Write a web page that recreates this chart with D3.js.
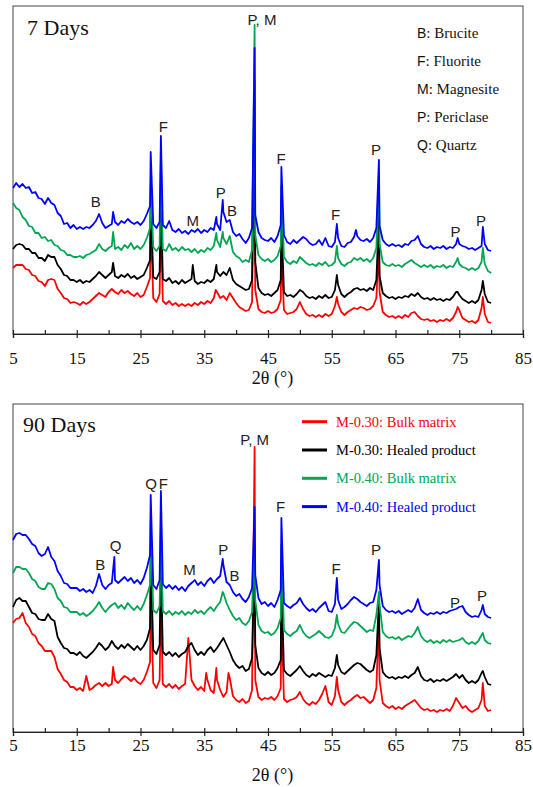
<!DOCTYPE html>
<html>
<head>
<meta charset="utf-8">
<script src="https://cdn.jsdelivr.net/npm/d3@7"></script>
<style>
  body { margin: 0; background: #fff; }
  svg { display: block; }
</style>
</head>
<body>
<svg id="chart" width="533" height="787"></svg>
<script>
// ---------------------------------------------------------------
// XRD patterns, 2θ scanned from 5° to 80° (background sampled every 0.5°)
// Intensities in arbitrary units, already offset for stacking.
// ---------------------------------------------------------------
const scanStart = 5, scanStep = 0.5, scanEnd = 80;
const twoTheta = d3.range(scanStart, scanEnd + scanStep / 2, scanStep);

const seriesNames  = ["M-0.30: Bulk matrix", "M-0.30: Healed product", "M-0.40: Bulk matrix", "M-0.40: Healed product"];
const seriesColors = ["#ff0000", "#000000", "#00a651", "#0000ff"];

// ---- 7 days ----
const d7_M30_bulk = [
  66,69,69,69,65,64,59,58,53,52, 48,54,55,54,45,41,36,35,31,32,
  31,29,32,30,32,35,38,41,39,37, 42,45,42,40,44,41,43,40,38,41,
  37,39,47,56,36,32,40,33,30,33, 29,31,28,30,28,30,28,31,29,32,
  30,33,31,36,42,36,38,34,41,36, 31,27,25,23,24,32,44,25,22,21,
  23,21,22,25,34,24,20,21,22,25, 32,25,20,18,19,17,19,17,20,18,
  20,28,30,22,19,22,24,26,25,27, 26,24,25,28,36,42,22,19,17,18,
  16,18,16,19,17,21,22,18,15,14, 15,13,14,12,14,13,15,13,16,22,
  24,16,14,12,13,11,14,26,20,12, 11];
const d7_M30_healed = [
  85,89,90,89,85,85,81,81,76,76, 73,79,77,77,69,65,59,58,54,54,
  52,54,51,53,52,55,58,62,59,56, 59,62,58,56,59,57,60,56,58,55,
  57,59,66,74,57,55,62,55,53,56, 51,53,50,54,51,53,55,53,50,52,
  51,54,52,55,62,58,62,59,66,54, 50,48,46,44,45,54,72,46,41,39,
  40,38,41,44,54,42,38,39,37,40, 44,42,38,36,37,35,38,36,39,36,
  37,44,49,40,37,40,42,45,46,44, 45,43,46,44,54,58,41,38,36,37,
  35,37,36,38,37,40,38,41,37,35, 36,34,36,34,35,33,35,34,37,42,
  39,35,33,31,33,31,34,44,40,32, 31];
const d7_M40_bulk = [
  131,126,124,117,114,108,107,101,101,96, 97,93,94,89,88,84,83,79,79,77,
  77,78,76,79,80,82,84,90,85,83, 86,88,85,87,84,89,86,91,85,88,
  85,89,96,106,87,83,88,85,83,90, 84,86,83,87,84,85,82,85,81,84,
  82,86,84,88,94,87,96,90,98,82, 78,76,72,74,72,84,99,79,75,73,
  75,72,74,78,88,77,72,70,73,71, 77,74,71,69,70,68,71,69,72,68,
  69,72,76,70,68,71,72,76,74,76, 73,75,72,76,86,90,72,69,68,70,
  68,69,67,70,72,74,71,69,67,69, 67,69,66,68,67,69,66,68,67,72,
  70,67,66,64,66,64,66,72,70,63, 61];
const d7_M40_healed = [
  146,151,147,150,146,147,141,142,136,135, 130,136,131,129,121,118,110,111,106,109,
  105,107,105,107,106,109,113,120,111,106, 108,110,112,109,113,111,115,112,110,112,
  109,113,120,128,110,106,112,109,106,113, 104,102,105,101,103,100,104,102,105,101,
  104,102,106,104,110,104,122,112,114,102, 98,100,95,91,96,106,119,102,96,94,
  93,96,92,98,109,99,92,90,94,91, 94,97,95,91,89,90,94,89,96,88,
  87,92,96,88,87,91,92,97,98,94, 93,95,92,96,106,108,94,90,88,90,
  88,89,87,90,89,93,94,98,90,87, 86,88,85,87,86,88,85,87,86,90,
  90,88,87,85,86,84,86,88,90,84, 83];

// sharp reflections [2θ, intensity]
const d7_M30_bulk_peaks   = [[26.6,119],[28.2,124],[36.8,44],[42.9,234],[47.1,84],[55.8,37],[62.4,89],[74.75,27],[78.7,37]];
const d7_M30_healed_peaks = [[20.7,71],[26.6,134],[28.2,139],[33.2,69],[36.9,69],[42.9,254],[47.1,114],[55.8,59],[62.4,119],[74.75,42],[78.7,53]];
const d7_M40_bulk_peaks   = [[20.7,102],[26.6,150],[28.2,175],[36.9,101],[37.9,102],[42.9,309],[47.1,148],[55.8,88],[62.4,158],[74.75,76],[78.7,86]];
const d7_M40_healed_peaks = [[20.7,122],[26.6,182],[28.2,198],[36.9,117],[37.9,134],[42.9,286],[47.1,167],[55.8,110],[58.8,104],[62.4,174],[74.75,96],[78.7,107]];

// ---- 90 days ----
const d90_M30_bulk = [
  109,113,114,119,109,105,98,96,89,86, 81,81,81,75,63,58,52,50,45,45,
  42,44,41,56,42,44,47,49,46,49, 46,48,52,49,53,56,54,51,54,50,
  48,52,60,70,49,44,52,48,45,48, 44,47,43,46,48,94,52,46,42,45,
  41,52,42,39,52,42,35,40,54,36, 32,30,33,29,31,42,52,35,32,34,
  33,35,32,36,44,33,30,32,33,35, 40,33,29,27,30,28,32,38,46,30,
  27,36,42,30,27,30,32,35,37,34, 35,32,29,32,44,52,29,26,24,26,
  23,25,23,26,28,30,32,28,24,22, 23,21,22,20,22,21,23,21,26,34,
  29,24,26,22,20,22,24,32,26,21, 22];
const d90_M30_healed = [
  125,132,134,131,131,125,119,118,113,112, 112,118,113,111,95,89,84,83,79,79,
  77,80,76,74,77,80,84,89,86,82, 85,91,86,83,87,84,88,85,82,86,
  82,86,92,104,82,78,87,80,77,80, 76,79,75,78,80,86,89,82,77,80,
  77,82,85,80,84,89,94,87,80,72, 67,64,66,61,63,74,87,64,59,57,
  60,57,59,64,72,62,58,56,59,62, 66,61,57,55,58,56,59,57,55,57,
  56,64,67,60,58,61,64,67,69,68, 65,62,60,62,77,84,60,56,54,55,
  53,55,54,56,54,57,59,65,56,52, 51,53,50,52,51,53,51,53,55,58,
  54,57,52,49,51,49,52,59,55,48, 47];
const d90_M40_bulk = [
  159,165,165,163,163,159,153,151,145,143, 143,149,148,143,134,131,125,124,120,120,
  120,117,119,116,118,121,125,130,124,120, 124,127,129,124,127,123,129,125,122,126,
  122,128,137,147,122,119,126,121,118,121, 117,120,118,121,117,120,118,122,119,121,
  118,122,125,121,126,130,139,129,122,116, 112,114,109,107,111,120,132,107,101,99,
  100,97,99,104,114,102,98,96,99,101, 107,100,96,94,96,98,101,98,95,94,
  96,104,108,100,99,103,107,110,109,106, 103,100,102,101,117,127,100,96,94,95,
  93,95,92,94,96,95,99,105,96,92, 90,92,89,91,89,92,90,92,90,91,
  92,94,90,88,90,88,91,97,92,89, 88];
const d90_M40_healed = [
  192,198,199,197,197,193,188,186,179,176, 178,185,175,171,161,156,149,148,144,144,
  144,141,143,140,142,139,146,158,147,143, 147,149,152,149,152,155,151,154,149,152,
  148,154,164,177,147,143,152,148,144,147, 143,146,142,145,141,146,149,152,147,150,
  146,151,154,149,153,156,167,150,147,140, 136,138,133,130,135,144,157,134,128,130,
  126,129,125,132,142,129,126,124,127,129, 134,128,124,121,123,120,124,127,130,121,
  120,128,132,123,125,128,132,135,133,130, 128,126,129,130,142,147,126,122,120,121,
  119,121,118,120,122,120,124,133,122,119, 117,119,118,120,118,120,119,121,122,123,
  125,126,120,117,115,116,115,122,118,115, 114];

const d90_M30_bulk_peaks   = [[20.7,65],[26.6,142],[28.2,132],[35.3,59],[36.9,64],[38.8,59],[42.9,285],[47.1,122],[55.8,55],[62.4,117],[78.7,49]];
const d90_M30_healed_peaks = [[26.6,182],[28.2,172],[42.9,172],[47.1,152],[55.8,77],[62.4,132],[78.7,61]];
const d90_M40_bulk_peaks   = [[26.6,212],[28.2,207],[37.9,140],[42.9,202],[47.1,187],[55.8,117],[62.4,140],[78.7,99]];
const d90_M40_healed_peaks = [[20.9,175],[26.6,237],[28.2,241],[33.2,150],[37.9,173],[42.9,225],[47.1,214],[55.8,154],[62.4,172],[78.7,127]];

// phase annotations [label, 2θ, intensity]
const labels7 = [["B",18.0,127],["F",28.6,202],["M",33.2,108],["P",37.6,136],["B",39.35,118],
  ["P, M",44.06,309],["F",47.04,170],["F",55.6,114],["P",61.94,179],["P",74.4,97],["P",78.4,108]];
const labels90 = [["B",18.7,162],["Q",21.1,181],["Q",26.65,243],["F",28.6,243],["M",32.7,157],
  ["P",38.0,177],["B",39.75,151],["P, M",42.9,287],["F",46.96,220],["F",55.67,158],
  ["P",61.94,177],["P",74.33,124],["P",78.57,131]];

const phaseKey = [["B", ": Brucite"], ["F", ": Fluorite"], ["M", ": Magnesite"], ["P", ": Periclase"], ["Q", ": Quartz"]];

const majorTicks = [5, 15, 25, 35, 45, 55, 65, 75, 85];
const minorTicks = [10, 20, 30, 40, 50, 60, 70, 80];
const intensityMax = 328;

// ---------------------------------------------------------------
const SERIF = "'Liberation Serif', 'Times New Roman', serif";
const SANS  = "'Liberation Sans', Arial, sans-serif";
const svg = d3.select("#chart");
const x = d3.scaleLinear().domain([5, 85]).range([13, 523]);

function pattern(values, peaks) {
  return values.map((v, i) => [twoTheta[i], v]).concat(peaks).sort((a, b) => a[0] - b[0]);
}

const panels = [
  { title: "7 Days", top: 6, bottom: 334, tickBase: 30, titleBase: 50,
    data: [pattern(d7_M30_bulk, d7_M30_bulk_peaks), pattern(d7_M30_healed, d7_M30_healed_peaks),
           pattern(d7_M40_bulk, d7_M40_bulk_peaks), pattern(d7_M40_healed, d7_M40_healed_peaks)],
    labels: labels7, titlePos: [27, 35] },
  { title: "90 Days", top: 404, bottom: 732, tickBase: 19, titleBase: 49,
    data: [pattern(d90_M30_bulk, d90_M30_bulk_peaks), pattern(d90_M30_healed, d90_M30_healed_peaks),
           pattern(d90_M40_bulk, d90_M40_bulk_peaks), pattern(d90_M40_healed, d90_M40_healed_peaks)],
    labels: labels90, titlePos: [23, 432] }
];

panels.forEach((p) => {
  const y = d3.scaleLinear().domain([0, intensityMax]).range([p.bottom, p.top]);
  const g = svg.append("g");

  // frame
  g.append("rect")
    .attr("x", x(5)).attr("y", p.top)
    .attr("width", x(85) - x(5)).attr("height", p.bottom - p.top)
    .attr("fill", "none").attr("stroke", "#444").attr("stroke-width", 1);

  // patterns (drawn red → black → green → blue)
  const line = d3.line().x(d => x(d[0])).y(d => y(d[1]));
  p.data.forEach((d, i) => {
    g.append("path").datum(d)
      .attr("d", line)
      .attr("fill", "none")
      .attr("stroke", seriesColors[i])
      .attr("stroke-width", 1.8)
      .attr("stroke-linejoin", "round");
  });

  // x axis: major ticks crossing the axis, all ticks inward
  const axOut = g.append("g").attr("transform", `translate(0,${p.bottom})`)
    .call(d3.axisBottom(x).tickValues(majorTicks).tickSize(4).tickFormat(d3.format("d")));
  axOut.attr("font-family", SERIF).attr("font-size", 17);
  axOut.select(".domain").attr("stroke", "#222").attr("stroke-width", 1.2);
  axOut.selectAll(".tick line").attr("stroke", "#222").attr("stroke-width", 1.2);
  axOut.selectAll(".tick text")
    .attr("y", p.tickBase).attr("dy", 0)
    .attr("font-family", SERIF).attr("font-size", 17).attr("fill", "#111");

  const axIn = g.append("g").attr("transform", `translate(0,${p.bottom})`)
    .call(d3.axisTop(x).tickValues(majorTicks.concat(minorTicks)).tickSize(4).tickFormat(""));
  axIn.select(".domain").remove();
  axIn.selectAll(".tick line").attr("stroke", "#222").attr("stroke-width", 1.2);

  // axis title
  g.append("text")
    .attr("x", 272.5).attr("y", p.bottom + p.titleBase)
    .attr("text-anchor", "middle")
    .attr("font-family", SERIF).attr("font-size", 18).attr("fill", "#111")
    .text("2θ (°)");

  // panel title
  g.append("text")
    .attr("x", p.titlePos[0]).attr("y", p.titlePos[1])
    .attr("font-family", SERIF).attr("font-size", 22).attr("fill", "#111")
    .text(p.title);

  // phase annotations
  g.selectAll("text.phase").data(p.labels).enter().append("text")
    .attr("class", "phase")
    .attr("x", d => x(d[1])).attr("y", d => y(d[2]))
    .attr("text-anchor", "middle")
    .attr("font-family", SANS).attr("font-size", 15).attr("fill", "#222")
    .text(d => d[0]);
});

// phase key (7 days panel)
const key = svg.append("g");
phaseKey.forEach((k, i) => {
  const t = key.append("text").attr("x", 417).attr("y", 38 + i * 28.1).attr("fill", "#111");
  t.append("tspan").attr("font-family", SANS).attr("font-size", 14).text(k[0]);
  t.append("tspan").attr("font-family", SERIF).attr("font-size", 15).text(k[1]);
});

// series legend (90 days panel)
const leg = svg.append("g");
seriesNames.forEach((name, i) => {
  const cy = 421.7 + i * 28.3;
  leg.append("line")
    .attr("x1", 302).attr("x2", 327).attr("y1", cy).attr("y2", cy)
    .attr("stroke", seriesColors[i]).attr("stroke-width", 3);
  leg.append("text")
    .attr("x", 336).attr("y", cy + 5)
    .attr("font-family", SERIF).attr("font-size", 14.5)
    .attr("fill", seriesColors[i])
    .text(name);
});
</script>
</body>
</html>
